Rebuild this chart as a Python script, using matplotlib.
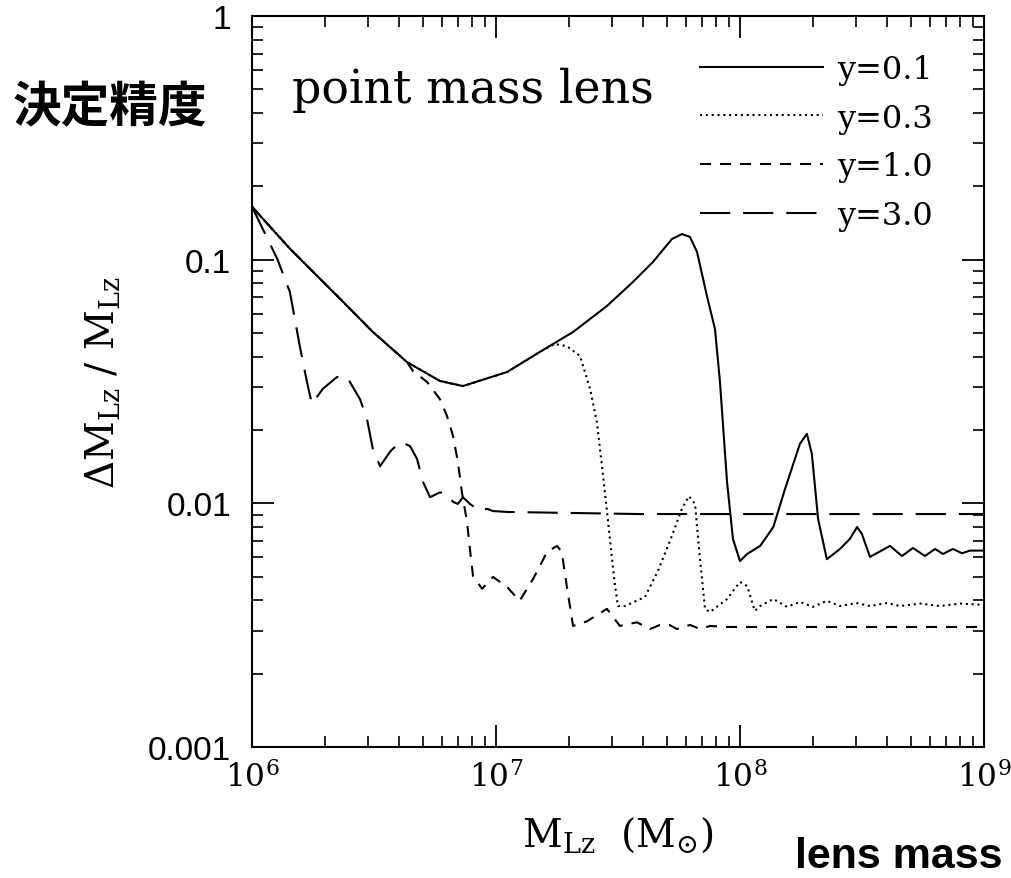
import matplotlib
matplotlib.use('Agg')
import matplotlib.pyplot as plt
from matplotlib.ticker import FixedLocator, FixedFormatter, LogLocator, NullFormatter
from matplotlib.lines import Line2D

plt.rcParams['font.family'] = ['DejaVu Serif']
plt.rcParams['mathtext.fontset'] = 'dejavuserif'

# lens mass M_Lz (solar masses) and relative error for each source position y
m_y01 = [1.0e6, 1.43e6, 2.30e6, 3.13e6, 4.32e6, 5.89e6, 7.32e6, 1.11e7, 1.51e7, 2.07e7,
         2.85e7, 3.64e7, 4.40e7, 5.26e7, 5.78e7, 6.24e7, 6.67e7, 7.32e7, 7.90e7, 8.28e7,
         8.85e7, 9.36e7, 1.0e8, 1.07e8, 1.21e8, 1.37e8, 1.53e8, 1.76e8, 1.88e8, 1.97e8,
         2.09e8, 2.27e8, 2.57e8, 2.82e8, 3.02e8, 3.16e8, 3.41e8, 4.12e8, 4.61e8, 5.12e8,
         5.73e8, 6.30e8, 6.79e8, 7.46e8, 8.13e8, 8.77e8, 1.0e9]
err_y01 = [0.165, 0.111, 0.0690, 0.0505, 0.0380, 0.0318, 0.0303, 0.0346, 0.0418, 0.0505,
           0.0646, 0.0810, 0.0979, 0.1216, 0.1274, 0.124, 0.1075, 0.0710, 0.0519, 0.0315,
           0.01225, 0.00714, 0.0058, 0.0062, 0.00669, 0.0080, 0.01146, 0.01754, 0.0193, 0.0160,
           0.00863, 0.0059, 0.0065, 0.00714, 0.0080, 0.00749, 0.00603, 0.00669, 0.00608, 0.00656,
           0.00608, 0.0065, 0.0062, 0.0065, 0.00624, 0.0064, 0.0064]

m_y03 = m_y01[:9] + [1.74e7, 1.95e7, 2.21e7, 2.43e7, 2.59e7, 2.72e7, 2.85e7, 2.93e7, 3.05e7, 3.16e7,
                     3.38e7, 4.08e7, 4.61e7, 5.26e7, 5.78e7, 6.18e7, 6.54e7, 6.86e7, 7.19e7, 7.54e7,
                     8.85e7, 1.0e8, 1.07e8, 1.15e8, 1.21e8, 1.37e8, 1.56e8, 1.76e8, 1.99e8, 2.27e8,
                     2.57e8, 3.0e8, 3.41e8, 4.0e8, 4.53e8, 5.5e8, 6.6e8, 8.0e8, 1.0e9]
err_y03 = err_y01[:9] + [0.0451, 0.0442, 0.0403, 0.0295, 0.0216, 0.0142, 0.0093, 0.00714, 0.0049, 0.00379,
                         0.00379, 0.00413, 0.00528, 0.00735, 0.0095, 0.0107, 0.00995, 0.0059, 0.00369, 0.00358,
                         0.00405, 0.00476, 0.00458, 0.00362, 0.00379, 0.00405, 0.00376, 0.00394, 0.00376, 0.00398,
                         0.00379, 0.0039, 0.00379, 0.0039, 0.00379, 0.00388, 0.00379, 0.00388, 0.00383]

m_y10 = m_y01[:5] + [4.57e6, 5.22e6, 5.89e6, 6.30e6, 6.67e6, 6.98e6, 7.25e6, 7.61e6, 7.82e6, 8.05e6,
                     8.77e6, 9.72e6, 1.11e7, 1.25e7, 1.42e7, 1.62e7, 1.78e7, 1.86e7, 1.95e7, 2.07e7,
                     2.36e7, 2.85e7, 3.22e7, 3.78e7, 4.28e7, 4.70e7, 5.14e7, 5.52e7, 6.24e7, 6.86e7,
                     7.54e7, 8.85e7, 1.0e9]
err_y10 = err_y01[:5] + [0.0349, 0.0315, 0.0268, 0.0228, 0.0189, 0.0148, 0.0111, 0.0084, 0.0065, 0.00504,
                         0.00446, 0.00499, 0.00454, 0.00398, 0.0049, 0.00632, 0.00669, 0.00632, 0.00458, 0.00314,
                         0.00328, 0.00369, 0.00314, 0.00325, 0.00305, 0.00317, 0.00317, 0.00305, 0.00317, 0.00305,
                         0.00314, 0.00311, 0.00311]

m_y30 = [1.0e6, 1.27e6, 1.43e6, 1.57e6, 1.68e6, 1.76e6, 1.95e6, 2.23e6, 2.45e6, 2.77e6,
         2.96e6, 3.13e6, 3.35e6, 3.68e6, 4.04e6, 4.44e6, 4.75e6, 5.02e6, 5.37e6, 5.89e6,
         6.30e6, 6.67e6, 6.98e6, 7.32e6, 7.82e6, 8.6e6, 9.19e6, 9.72e6, 1.11e7, 3.89e7, 1.0e9]
err_y30 = [0.165, 0.1007, 0.0737, 0.0442, 0.0315, 0.0256, 0.0295, 0.0330, 0.0330, 0.0268,
           0.0222, 0.0167, 0.0142, 0.0163, 0.0179, 0.0172, 0.0152, 0.01225, 0.0106, 0.0111,
           0.01093, 0.01014, 0.00995, 0.0106, 0.00995, 0.0093, 0.0095, 0.0093, 0.00922, 0.00904, 0.00904]

series_labels = ['y=0.1', 'y=0.3', 'y=1.0', 'y=3.0']
y_ticks = [1e-3, 1e-2, 1e-1, 1.0]
y_ticklabels = ['0.001', '0.01', '0.1', '1']

lw = 1.5
styles = ['-', (0, (1, 1.8)), (0, (5.3, 4.3)), (0, (14.5, 6.2))]
curves = [(m_y01, err_y01), (m_y03, err_y03), (m_y10, err_y10), (m_y30, err_y30)]

fig = plt.figure(figsize=(10.12, 8.79), dpi=100)
ax = fig.add_axes([0.249, 0.149, 0.7233, 0.8316])

handles = []
for (mx, ey), ls, lab in zip(curves, styles, series_labels):
    ax.plot(mx, ey, color='black', lw=lw, linestyle=ls)
    handles.append(Line2D([], [], color='black', lw=lw, linestyle=ls, label=lab))

ax.set_xscale('log')
ax.set_yscale('log')
ax.set_xlim(1e6, 1e9)
ax.set_ylim(1e-3, 1.0)

ax.yaxis.set_major_locator(FixedLocator(y_ticks))
ax.yaxis.set_major_formatter(FixedFormatter(y_ticklabels))
ax.yaxis.set_minor_locator(LogLocator(base=10, subs=range(2, 10)))
ax.yaxis.set_minor_formatter(NullFormatter())
ax.xaxis.set_minor_locator(LogLocator(base=10, subs=range(2, 10)))
ax.xaxis.set_minor_formatter(NullFormatter())

ax.tick_params(which='both', direction='in', top=True, right=True, color='black')
ax.tick_params(which='major', length=16, width=1.3)
ax.tick_params(which='minor', length=8, width=1.2)
ax.tick_params(axis='y', which='major', labelsize=24, pad=15)
ax.tick_params(axis='x', which='major', labelsize=22.5, pad=10)
for lbl in ax.get_yticklabels():
    lbl.set_family(['Liberation Sans', 'DejaVu Sans'])
for sp in ax.spines.values():
    sp.set_linewidth(1.5)

ax.set_xlabel(r'$\mathrm{M_{Lz}}\ \ (\mathrm{M_{\odot}})$', fontsize=28)
ax.xaxis.set_label_coords(0.5, -0.093)
ax.xaxis.label.set_va('top')
ax.set_ylabel(r'$\Delta\mathrm{M_{Lz}}\ /\ \mathrm{M_{Lz}}$', fontsize=28)
ax.yaxis.set_label_coords(-0.178, 0.5)

ax.text(0.055, 0.882, 'point mass lens', transform=ax.transAxes, fontsize=33)

ax.legend(handles=handles, loc='upper right', bbox_to_anchor=(0.93, 0.948),
          frameon=False, fontsize=23, handlelength=3.85, handletextpad=0.44,
          labelspacing=0.55, borderpad=0, borderaxespad=0)

fig.text(0.012, 0.878, '決定精度', fontsize=35, fontweight='bold', va='center',
         family=['Noto Sans CJK JP', 'DejaVu Sans'])
fig.text(0.786, 0.0125, 'lens mass', fontsize=31, fontweight='bold', va='baseline',
         family=['Liberation Sans', 'DejaVu Sans'])

fig.savefig('out.png', dpi=100)
plt.close(fig)
